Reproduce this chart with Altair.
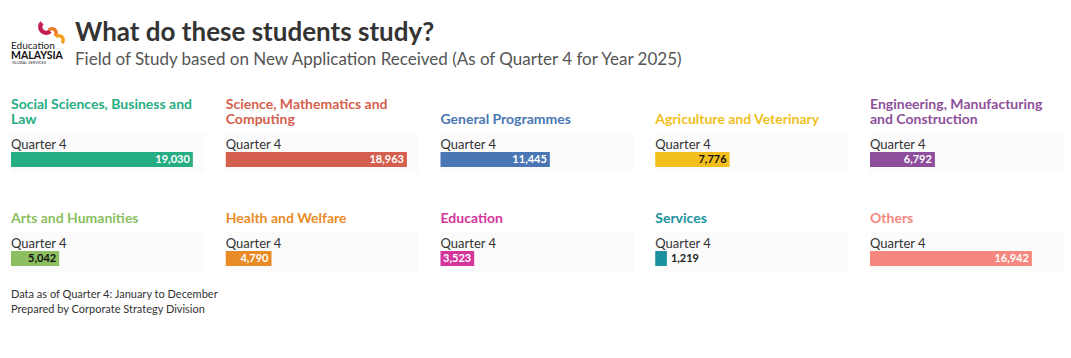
import altair as alt
import pandas as pd

FONT = "Lato"

# ---- data ----
title_lines = [
    ["Social Sciences, Business and", "Law"],
    ["Science, Mathematics and", "Computing"],
    ["General Programmes"],
    ["Agriculture and Veterinary"],
    ["Engineering, Manufacturing", "and Construction"],
    ["Arts and Humanities"],
    ["Health and Welfare"],
    ["Education"],
    ["Services"],
    ["Others"],
]
values = [19030, 18963, 11445, 7776, 6792, 5042, 4790, 3523, 1219, 16942]
colors = ["#27ad84", "#d45f4e", "#4a77b4", "#f2bf1e", "#8d4f9b",
          "#8bbf62", "#e98b26", "#d4359b", "#1b929e", "#f6877e"]
label_colors = ["#ffffff", "#ffffff", "#ffffff", "#111111", "#ffffff",
                "#111111", "#ffffff", "#ffffff", "#222222", "#ffffff"]
period = "Quarter 4"

main_title = "What do these students study?"
subtitle = "Field of Study based on New Application Received (As of Quarter 4 for Year 2025)"
footer_lines = ["Data as of Quarter 4: January to December",
                "Prepared by Corporate Strategy Division"]

PW, PH = 193, 40
XMAX = 20200


def panel(i):
    df = pd.DataFrame({"period": [period], "value": [values[i]]})
    base = alt.Chart(df)
    x = alt.X("value:Q", scale=alt.Scale(domain=[0, XMAX]), axis=None)
    band = base.mark_rect(color="#fbfbfb").encode(
        x=alt.value(0), x2=alt.value(PW), y=alt.value(0), y2=alt.value(PH))
    bar = base.mark_rect(color=colors[i]).encode(
        x=x, x2=alt.datum(0), y=alt.value(19), y2=alt.value(34))
    outside = values[i] * PW / XMAX < 25
    lab = base.mark_text(
        align="left" if outside else "right", dx=4 if outside else -3,
        baseline="middle", fontWeight="bold", fontSize=11, font=FONT,
        color=label_colors[i]).encode(
        x=x, y=alt.value(27), text=alt.Text("value:Q", format=","))
    per = base.mark_text(align="left", baseline="alphabetic", fontSize=13,
                         font=FONT, color="#333333").encode(
        x=alt.value(0), y=alt.value(16), text="period:N")
    return alt.layer(band, bar, lab, per).properties(
        width=PW, height=PH,
        title=alt.TitleParams(text=title_lines[i], color=colors[i], fontSize=14,
                              fontWeight="bold", font=FONT, anchor="start",
                              offset=6, lineHeight=15))


row1 = alt.hconcat(*[panel(i) for i in range(5)], spacing=21.75)
row2 = alt.hconcat(*[panel(i) for i in range(5, 10)], spacing=21.75)
rows = alt.vconcat(row1, row2, spacing=39)

one = pd.DataFrame({"a": [0]})
hb = alt.Chart(one)
h_title = hb.mark_text(text=main_title, font=FONT, fontSize=26, fontWeight="bold",
                       color="#333333", align="left", baseline="alphabetic").encode(
    x=alt.value(64), y=alt.value(33))
h_sub = hb.mark_text(text=subtitle, font=FONT, fontSize=17, color="#555555",
                     align="left", baseline="alphabetic").encode(
    x=alt.value(64), y=alt.value(57))
logo_edu = hb.mark_text(text="Education", font=FONT, fontSize=10, color="#222222",
                        align="left", baseline="alphabetic").encode(
    x=alt.value(0), y=alt.value(41))
logo_my = hb.mark_text(text="MALAYSIA", font=FONT, fontSize=10.5, fontWeight="bold",
                       color="#111111", align="left", baseline="alphabetic").encode(
    x=alt.value(0), y=alt.value(51))
logo_gs = hb.mark_text(text="GLOBAL SERVICES", font=FONT, fontSize=4, color="#333333",
                       align="left", baseline="alphabetic").encode(
    x=alt.value(1), y=alt.value(56))
arc_red = hb.mark_arc(color="#c41f52", theta=2.36, theta2=5.5, innerRadius=3.5,
                      outerRadius=8).encode(x=alt.value(35), y=alt.value(19))
arc_or1 = hb.mark_arc(color="#ec7a25", theta=5.5, theta2=8.64, innerRadius=2.5,
                      outerRadius=6).encode(x=alt.value(41), y=alt.value(25))
arc_or2 = hb.mark_arc(color="#f5a01f", theta=5.5, theta2=8.64, innerRadius=2.5,
                      outerRadius=6).encode(x=alt.value(48), y=alt.value(32))
header = alt.layer(h_title, h_sub, arc_red, arc_or1, arc_or2,
                   logo_edu, logo_my, logo_gs).properties(width=1050, height=62)

fb = alt.Chart(one)
f1 = fb.mark_text(text=footer_lines[0], font=FONT, fontSize=11, color="#333333",
                  align="left", baseline="alphabetic").encode(x=alt.value(0), y=alt.value(14))
f2 = fb.mark_text(text=footer_lines[1], font=FONT, fontSize=11, color="#333333",
                  align="left", baseline="alphabetic").encode(x=alt.value(0), y=alt.value(29))
footer = alt.layer(f1, f2).properties(width=1050, height=32)

chart = alt.vconcat(alt.vconcat(header, rows, spacing=28), footer, spacing=12).properties(
    padding={"left": 3, "top": 0, "right": 0, "bottom": 0},
    background="white",
).configure_view(stroke=None)

chart.save("out.html", embed_options={"renderer": "svg", "actions": False})
